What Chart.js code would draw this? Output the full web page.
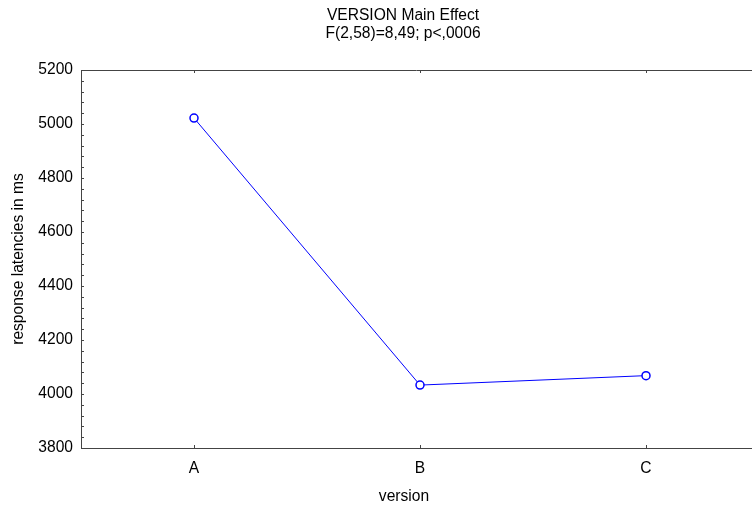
<!DOCTYPE html>
<html>
<head>
<meta charset="utf-8">
<script src="https://cdn.jsdelivr.net/npm/chart.js@4/dist/chart.umd.min.js"></script>
<style>
	html, body { margin: 0; padding: 0; background: #fff; }
	#wrap { width: 752px; height: 506px; }
</style>
</head>
<body>
<div id="wrap"><canvas id="myChart" width="752" height="506"></canvas></div>
<script>
var versions = ['A', 'B', 'C'];
var latencies = [5022, 4033, 4068];
var titleLines = ['VERSION Main Effect', 'F(2,58)=8,49; p<,0006'];
var xTitle = 'version';
var yTitle = 'response latencies in ms';
var yMin = 3800, yMax = 5200, yMajor = 200, yMinor = 40;

var FONT = "'Liberation Sans', Arial, sans-serif";
var FSIZE = 15.6;
var AXIS = '#444';

var points = [];
for (var i = 0; i < versions.length; i++) {
	points.push({ x: i, y: latencies[i] });
}

// titles and inward ticks, like the original stats package draws them
var decor = {
	id: 'decor',
	afterDraw: function(chart) {
		var ctx = chart.ctx;
		var a = chart.chartArea;
		var xs = chart.scales.x, ys = chart.scales.y;
		ctx.save();
		ctx.strokeStyle = AXIS;
		ctx.lineWidth = 1;
		ctx.beginPath();
		// top frame
		ctx.moveTo(a.left, Math.round(a.top) + 0.5);
		ctx.lineTo(a.right, Math.round(a.top) + 0.5);
		ys.ticks.forEach(function(t) {
			var y = Math.round(ys.getPixelForValue(t.value)) + 0.5;
			ctx.moveTo(a.left, y);
			ctx.lineTo(a.left + 3, y);
		});
		xs.ticks.forEach(function(t) {
			var x = Math.round(xs.getPixelForValue(t.value)) + 0.5;
			ctx.moveTo(x, a.bottom);
			ctx.lineTo(x, a.bottom - 3);
			ctx.moveTo(x, a.top);
			ctx.lineTo(x, a.top + 3);
		});
		ctx.stroke();

		ctx.fillStyle = '#000';
		ctx.font = FSIZE + 'px ' + FONT;
		ctx.textAlign = 'center';
		ctx.textBaseline = 'middle';
		ctx.fillText(titleLines[0], 403, 16);
		ctx.fillText(titleLines[1], 403, 34);
		ctx.fillText(xTitle, 404, 497);
		ctx.restore();
	}
};

var ctx = document.getElementById('myChart').getContext('2d');
var chart = new Chart(ctx, {
	type: 'line',
	data: {
		datasets: [{
			data: points,
			borderColor: '#0000ff',
			borderWidth: 1,
			backgroundColor: '#ffffff',
			pointBackgroundColor: '#ffffff',
			pointBorderColor: '#0000ff',
			pointBorderWidth: 1.5,
			pointRadius: 4,
			tension: 0,
			fill: false
		}]
	},
	options: {
		responsive: false,
		animation: false,
		layout: { autoPadding: false, padding: { top: 70, right: 0, left: 0, bottom: 0 } },
		plugins: {
			legend: { display: false },
			tooltip: { enabled: false },
			title: { display: false }
		},
		scales: {
			x: {
				type: 'linear',
				min: -0.5,
				max: 2.469,
				afterBuildTicks: function(scale) {
					scale.ticks = versions.map(function(v, i) { return { value: i }; });
				},
				afterFit: function(scale) {
					scale.height = 58;
					scale.paddingLeft = 0;
					scale.paddingRight = 0;
				},
				grid: { display: false, drawTicks: false },
				border: { display: true, color: AXIS, width: 1 },
				ticks: {
					padding: 11,
					color: '#000',
					font: { family: FONT, size: FSIZE },
					callback: function(v) { return versions[v] || ''; }
				}
			},
			y: {
				min: yMin,
				max: yMax,
				afterFit: function(scale) { scale.width = 81; },
				grid: { display: false, drawTicks: false },
				border: { display: true, color: AXIS, width: 1 },
				title: {
					display: true,
					text: yTitle,
					color: '#000',
					font: { family: FONT, size: FSIZE },
					padding: { top: 9, bottom: 0 }
				},
				ticks: {
					stepSize: yMinor,
					autoSkip: false,
					padding: 8,
					color: '#000',
					font: { family: FONT, size: FSIZE },
					callback: function(v) { return v % yMajor === 0 ? v : ''; }
				}
			}
		}
	},
	plugins: [decor]
});
</script>
</body>
</html>
